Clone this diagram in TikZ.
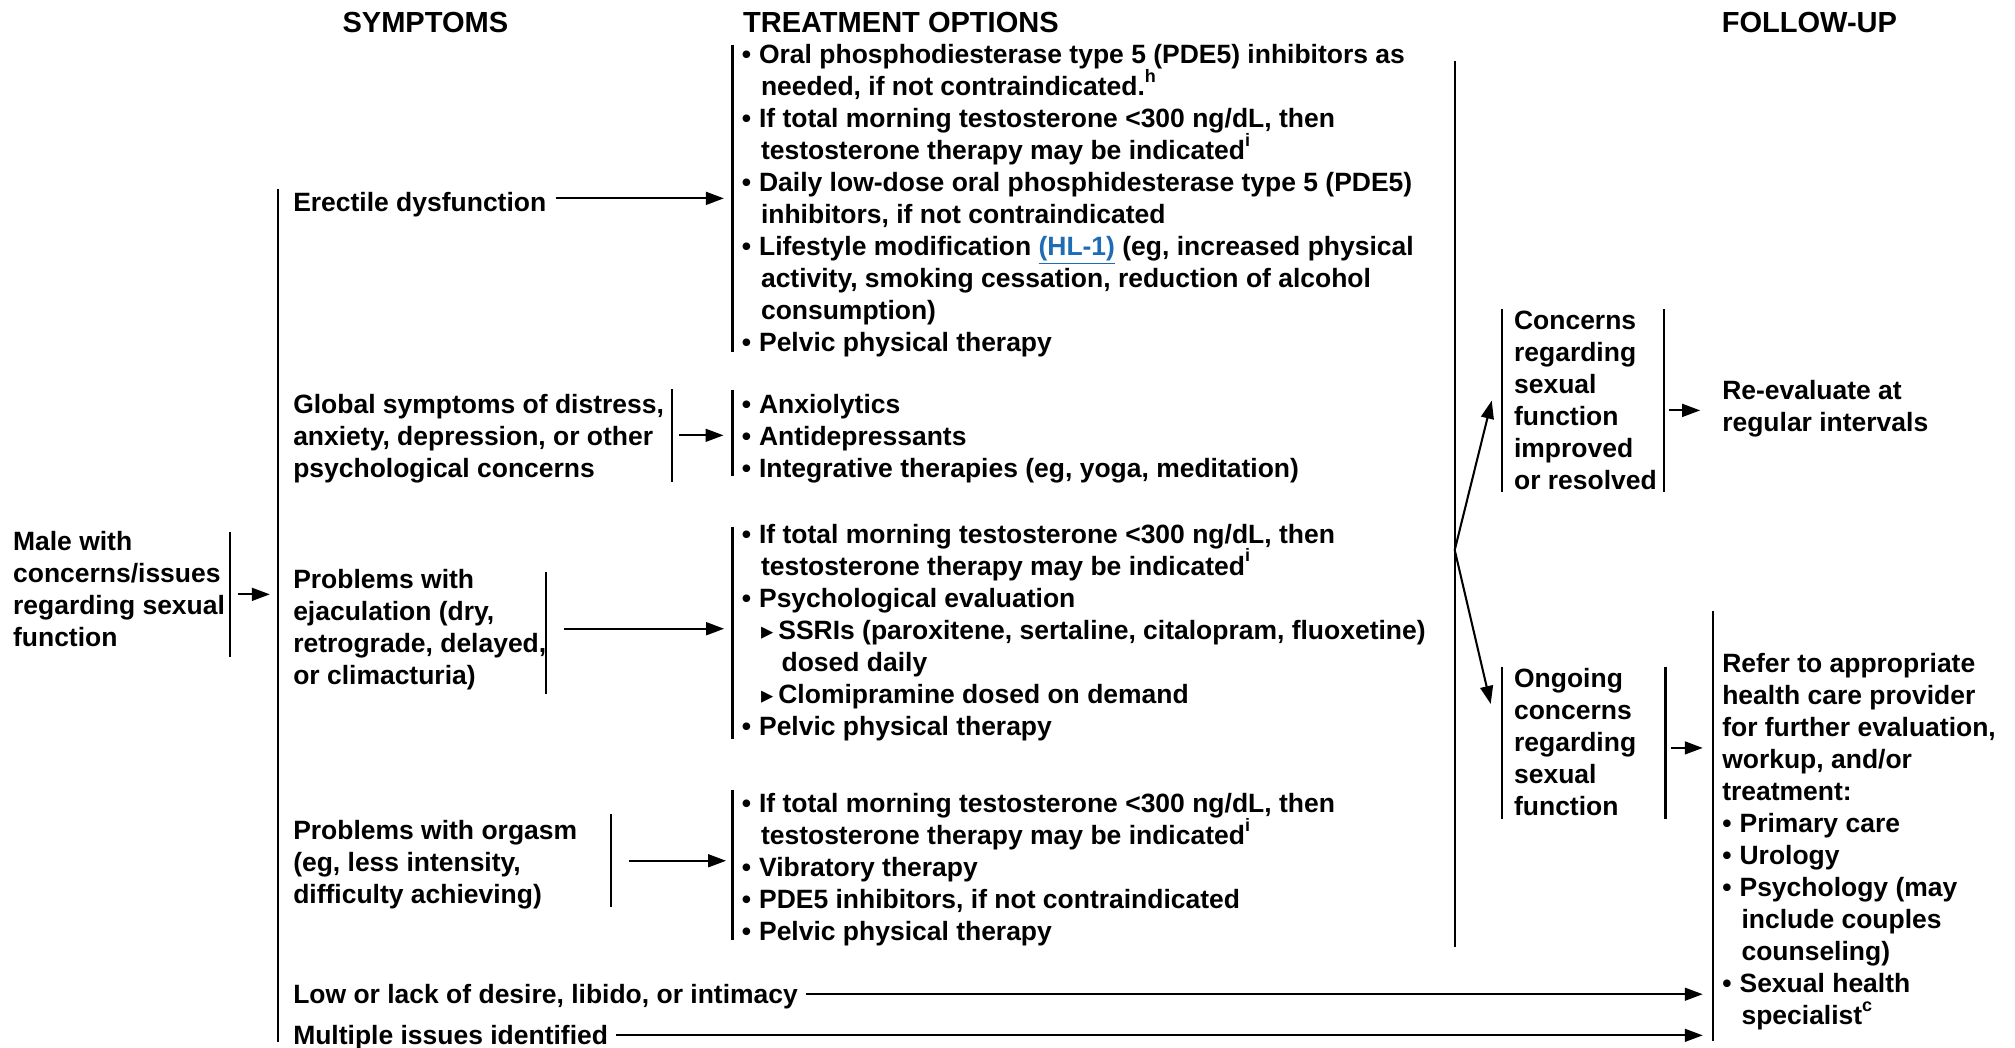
\documentclass[tikz,border=0pt]{standalone}
\usepackage{fontspec}
\setmainfont{Liberation Sans}
\newfontfamily\symfont{DejaVu Sans}
\usetikzlibrary{arrows.meta,calc}
\definecolor{linkblue}{RGB}{30,108,180}
% list helpers
\newcommand\bul{\makebox[13.5pt][l]{•}}
\newcommand\cont{\hspace*{15pt}}
\newcommand\subbul{\hspace*{15pt}\makebox[13.5pt][l]{{\symfont\fontsize{19}{19}\selectfont ▸}}}
\newcommand\subcont{\hspace*{31pt}}
\newcommand\sups[1]{\raisebox{0.5em}{\fontsize{14}{14}\selectfont #1}}

\begin{document}
\begin{tikzpicture}[x=1pt,y=-1pt,
  txt/.style={anchor=north west, inner sep=0pt, align=left, yshift=-2.5pt,
    font=\bfseries\fontsize{20.6}{24.9}\selectfont, execute at begin node=\strut},
  head/.style={inner sep=0pt, font=\bfseries\fontsize{22.6}{27}\selectfont},
  vbar/.style={inner sep=0pt, minimum width=0pt, minimum height=#1},
  bar/.style={line width=1.6pt},
  arr/.style={line width=1.6pt, -{Triangle[length=14pt,width=10pt]}}]

\useasboundingbox (0,0) rectangle (1568,815);

% column headings
\node[head, anchor=base] (hsym) at (331,25) {SYMPTOMS};
\node[head, anchor=base west] (htreat) at (578,25) {TREATMENT OPTIONS};
\node[head, anchor=base] (hfollow) at (1408,25) {FOLLOW-UP};

% presenting patient
\node[txt] (male) at (10,410.5) {Male with\\concerns/issues\\regarding sexual\\function};

% symptoms
\node[txt] (ed) at (228,144.5) {Erectile dysfunction};
\node[txt] (glob) at (228,304) {Global symptoms of distress,\\anxiety, depression, or other\\psychological concerns};
\node[txt] (ejac) at (228,440.5) {Problems with\\ejaculation (dry,\\retrograde, delayed,\\or climacturia)};
\node[txt] (org) at (228,636) {Problems with orgasm\\(eg, less intensity,\\difficulty achieving)};
\node[txt] (low) at (228,761) {Low or lack of desire, libido, or intimacy};
\node[txt] (multi) at (228,793) {Multiple issues identified};

% treatment options
\node[txt] (t1) at (577,32) {\bul Oral phosphodiesterase type 5 (PDE5) inhibitors as\\
\cont needed, if not contraindicated.\sups{h}\\
\bul If total morning testosterone <300 ng/dL, then\\
\cont testosterone therapy may be indicated\sups{i}\\
\bul Daily low-dose oral phosphidesterase type 5 (PDE5)\\
\cont inhibitors, if not contraindicated\\
\bul Lifestyle modification {\color{linkblue}\underline{(HL-1)}} (eg, increased physical\\
\cont activity, smoking cessation, reduction of alcohol\\
\cont consumption)\\
\bul Pelvic physical therapy};
\node[txt] (t2) at (577,304) {\bul Anxiolytics\\\bul Antidepressants\\\bul Integrative therapies (eg, yoga, meditation)};
\node[txt] (t3) at (577,405) {\bul If total morning testosterone <300 ng/dL, then\\
\cont testosterone therapy may be indicated\sups{i}\\
\bul Psychological evaluation\\
\subbul SSRIs (paroxitene, sertaline, citalopram, fluoxetine)\\
\subcont dosed daily\\
\subbul Clomipramine dosed on demand\\
\bul Pelvic physical therapy};
\node[txt] (t4) at (577,614.5) {\bul If total morning testosterone <300 ng/dL, then\\
\cont testosterone therapy may be indicated\sups{i}\\
\bul Vibratory therapy\\
\bul PDE5 inhibitors, if not contraindicated\\
\bul Pelvic physical therapy};

% follow-up
\node[txt] (f1) at (1178,239.5) {Concerns\\regarding\\sexual\\function\\improved\\or resolved};
\node[txt] (reeval) at (1340,293) {Re-evaluate at\\regular intervals};
\node[txt] (f2) at (1178,517) {Ongoing\\concerns\\regarding\\sexual\\function};
\node[txt] (refer) at (1340,506) {Refer to appropriate\\health care provider\\for further evaluation,\\workup, and/or\\treatment:\\
\bul Primary care\\\bul Urology\\\bul Psychology (may\\\cont include couples\\\cont counseling)\\
\bul Sexual health\\\cont specialist\sups{c}};

% vertical bars
\node[vbar=97] (mbar) at (179,462.5) {};
\node[vbar=664] (sbar) at (216,479) {};
\node[vbar=71.5] (gbar) at (523,338.75) {};
\node[vbar=94.5] (ebar) at (425,492.25) {};
\node[vbar=71.6] (obar) at (475.5,669.8) {};
\node[vbar=238.7] (t1bar) at (570,154.35) {};
\node[vbar=66.7] (t2bar) at (570,336.85) {};
\node[vbar=164.6] (t3bar) at (570,492.3) {};
\node[vbar=116.2] (t4bar) at (570,673.4) {};
\node[vbar=689] (bigbar) at (1132,392.5) {};
\node[vbar=141.6] (f1l) at (1169,311.8) {};
\node[vbar=141.6] (f1r) at (1294.5,311.8) {};
\node[vbar=118] (f2l) at (1169,578) {};
\node[vbar=118] (f2r) at (1296,578) {};
\node[vbar=334] (rbar) at (1333,643) {};
\foreach \b in {mbar,sbar,gbar,ebar,obar,t1bar,t2bar,t3bar,t4bar,bigbar,f1l,f1r,f2l,f2r,rbar}
  \draw[bar] (\b.north) -- (\b.south);

\coordinate (fork) at (1132,428);

% connectors
\draw[arr, shorten <=5.8pt, shorten >=6pt] (mbar) -- (mbar -| sbar);
\draw[arr, shorten <=7pt, shorten >=6.5pt] (t1bar -| ed.east) -- (t1bar);
\draw[arr, shorten <=5pt, shorten >=7pt] (gbar) -- (gbar -| t2bar);
\draw[arr, shorten <=13.7pt, shorten >=6.5pt] ([yshift=2.5pt]ejac.east -| ebar) -- ([yshift=2.5pt]ejac.east -| t3bar);
\draw[arr, shorten <=13.4pt, shorten >=5pt] (obar) -- (obar -| t4bar);
\draw[arr, shorten <=6pt, shorten >=8pt] ([yshift=2.5pt]low.east) -- ([yshift=2.5pt]low.east -| rbar);
\draw[arr, shorten <=6pt, shorten >=8pt] ([yshift=2.5pt]multi.east) -- ([yshift=2.5pt]multi.east -| rbar);
\draw[arr] (fork) -- ($(f1l.west)+(-8,0)$);
\draw[arr] (fork) -- ($(f2l.north)+(-9,29)$);
\draw[arr, shorten <=4.5pt, shorten >=17pt] (reeval.west -| f1r) -- (reeval.west);
\draw[arr, shorten <=4pt, shorten >=8pt] ([yshift=-4pt]f2r.center) -- ([yshift=-4pt]f2r.center -| rbar);
\end{tikzpicture}
\end{document}
